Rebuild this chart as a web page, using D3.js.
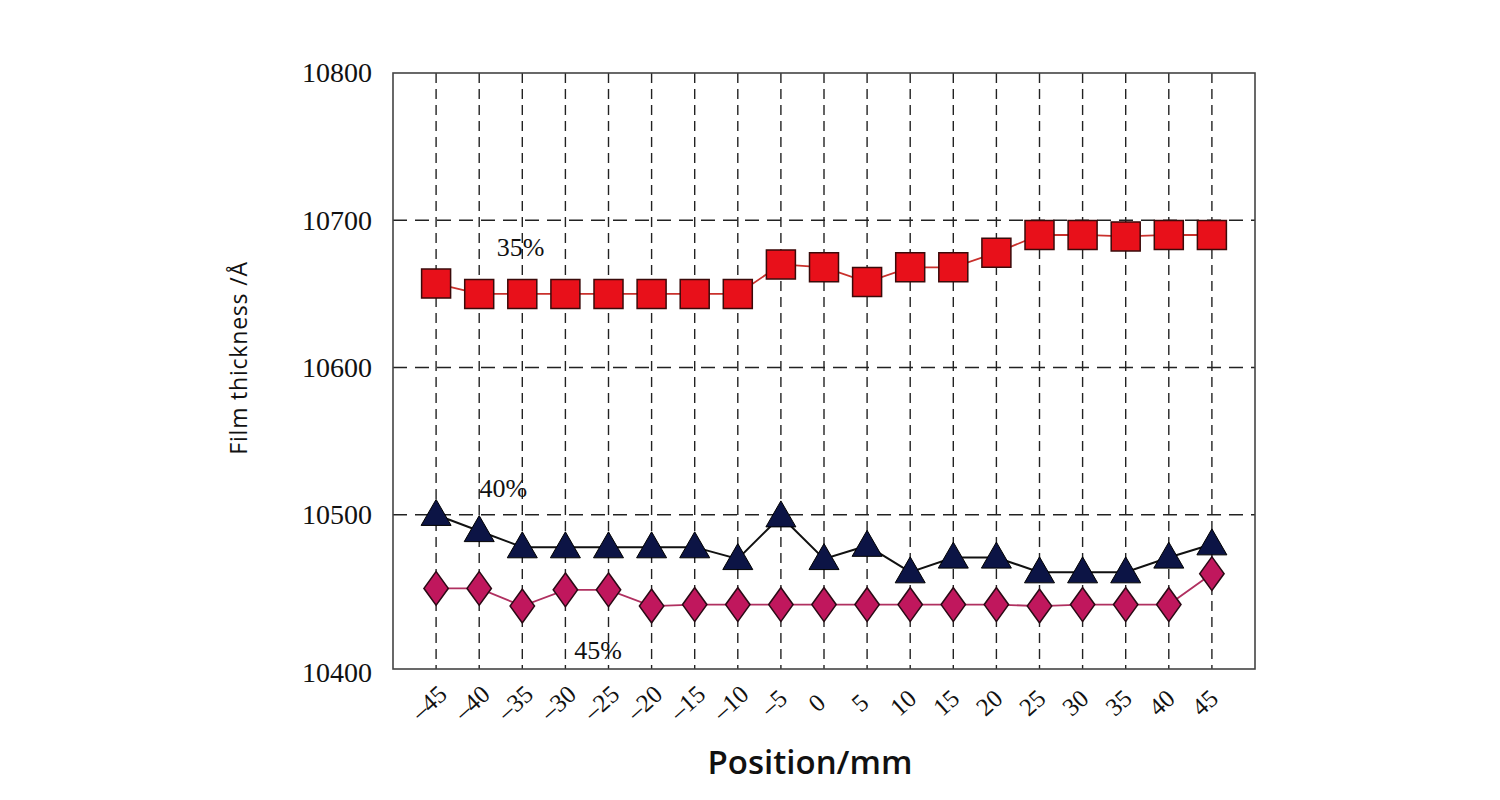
<!DOCTYPE html>
<html>
<head>
<meta charset="utf-8">
<script src="https://cdn.jsdelivr.net/npm/d3@7"></script>
<style>
  html, body { margin: 0; padding: 0; background: #fff; }
  svg { display: block; }
</style>
</head>
<body>
<svg id="chart" width="1500" height="800"></svg>
<script>
// ---- data ----
const positions = [-45, -40, -35, -30, -25, -20, -15, -10, -5, 0, 5, 10, 15, 20, 25, 30, 35, 40, 45];
const series35 = [10657, 10650, 10650, 10650, 10650, 10650, 10650, 10650, 10670, 10668, 10658, 10668, 10668, 10678, 10690, 10690, 10689, 10690, 10690];
const series40 = [10500, 10489, 10478, 10478, 10478, 10478, 10478, 10470, 10499, 10470, 10479, 10461, 10471, 10471, 10461, 10461, 10461, 10471, 10480];
const series45 = [10450, 10450, 10438, 10449, 10449, 10438, 10439, 10439, 10439, 10439, 10439, 10439, 10439, 10439, 10438, 10439, 10439, 10439, 10460];
const yTicks = [10400, 10500, 10600, 10700, 10800];
const seriesLabels = ["35%", "40%", "45%"];
const xTitle = "Position/mm";
const yTitle = "Film thickness /Å";

const svg = d3.select("#chart");
const pLeft = 393, pRight = 1255, pTop = 73, pBottom = 669;

const x = d3.scaleLinear().domain([-50, 50]).range([pLeft, pRight]);
const y = d3.scaleLinear().domain([10400, 10800]).range([662, pTop]);

// grid lines
const grid = svg.append("g");
grid.selectAll("line.v").data(positions).enter().append("line")
  .attr("x1", d => x(d)).attr("x2", d => x(d))
  .attr("y1", pTop).attr("y2", pBottom)
  .attr("stroke", "#222").attr("stroke-width", 1.4)
  .attr("stroke-dasharray", "10,6");
grid.selectAll("line.h").data(yTicks.filter(t => t > 10400 && t < 10800)).enter().append("line")
  .attr("x1", pLeft).attr("x2", pRight)
  .attr("y1", d => y(d)).attr("y2", d => y(d))
  .attr("stroke", "#222").attr("stroke-width", 1.4)
  .attr("stroke-dasharray", "14,8");

// frame
svg.append("rect").attr("x", pLeft).attr("y", pTop)
  .attr("width", pRight - pLeft).attr("height", pBottom - pTop)
  .attr("fill", "none").attr("stroke", "#444").attr("stroke-width", 1.6);

// y axis labels
const yAxis = d3.axisLeft(y).tickValues(yTicks).tickSize(0).tickPadding(21).tickFormat(d3.format("d"));
const gy = svg.append("g").attr("transform", `translate(${pLeft},0)`).call(yAxis);
gy.select(".domain").remove();
gy.selectAll("text").attr("font-family", "'Liberation Serif', 'Times New Roman', serif")
  .attr("font-size", 28).attr("fill", "#111")
  .attr("dy", (d) => d === 10400 ? "0.7em" : "0.32em");

// x axis labels (rotated)
const xAxis = d3.axisBottom(x).tickValues(positions).tickSize(0).tickFormat(d => d < 0 ? "–" + Math.abs(d) : String(d));
const gx = svg.append("g").attr("transform", `translate(0,${pBottom})`).call(xAxis);
gx.select(".domain").remove();
gx.selectAll("text")
  .attr("font-family", "'Liberation Serif', 'Times New Roman', serif")
  .attr("font-size", 25).attr("fill", "#111")
  .attr("text-anchor", "middle")
  .attr("y", 0).attr("dy", 0)
  .attr("transform", "translate(-2,40) rotate(-42)");

// lines
const lineGen = vals => d3.line().x((d, i) => x(positions[i])).y(d => y(d))(vals);
svg.append("path").attr("d", lineGen(series35)).attr("fill", "none").attr("stroke", "#c9302c").attr("stroke-width", 1.8);
svg.append("path").attr("d", lineGen(series40)).attr("fill", "none").attr("stroke", "#111").attr("stroke-width", 2);
svg.append("path").attr("d", lineGen(series45)).attr("fill", "none").attr("stroke", "#b03060").attr("stroke-width", 1.8);

// markers
const sq = d3.symbol().type(d3.symbolSquare).size(29 * 29);
svg.append("g").selectAll("path").data(series35).enter().append("path")
  .attr("d", sq).attr("transform", (d, i) => `translate(${x(positions[i])},${y(d)})`)
  .attr("fill", "#e8101a").attr("stroke", "#3a0a0a").attr("stroke-width", 1.5);

const tri = d3.symbol().type(d3.symbolTriangle).size(390);
svg.append("g").selectAll("path").data(series40).enter().append("path")
  .attr("d", tri).attr("transform", (d, i) => `translate(${x(positions[i])},${y(d) + 2})`)
  .attr("fill", "#0c1445").attr("stroke", "#000").attr("stroke-width", 1);

const dia = d3.symbol().type(d3.symbolDiamond).size(330);
svg.append("g").selectAll("path").data(series45).enter().append("path")
  .attr("d", dia).attr("transform", (d, i) => `translate(${x(positions[i])},${y(d)}) scale(1.25,1)`)
  .attr("fill", "#c0175d").attr("stroke", "#2a0a15").attr("stroke-width", 1.3);

// series labels (anchored to data coordinates)
const labelPos = [[-35.2, 10676], [-37.2, 10512], [-26.2, 10402]];
svg.append("g").selectAll("text").data(seriesLabels).enter().append("text")
  .attr("x", (d, i) => x(labelPos[i][0]))
  .attr("y", (d, i) => y(labelPos[i][1]))
  .attr("text-anchor", "middle")
  .attr("font-family", "'Liberation Serif', 'Times New Roman', serif")
  .attr("font-size", 26).attr("fill", "#111")
  .text(d => d);

// axis titles
svg.append("text").attr("x", (pLeft + pRight) / 2 - 14).attr("y", 774)
  .attr("text-anchor", "middle")
  .attr("font-family", "'Open Sans', sans-serif").attr("font-weight", 600)
  .attr("font-size", 33).attr("fill", "#111").text(xTitle);

svg.append("text").attr("transform", "translate(247,358) rotate(-90)")
  .attr("text-anchor", "middle")
  .attr("font-family", "'Open Sans', sans-serif")
  .attr("font-size", 23).attr("letter-spacing", 0.8).attr("fill", "#111").text(yTitle);
</script>
</body>
</html>
